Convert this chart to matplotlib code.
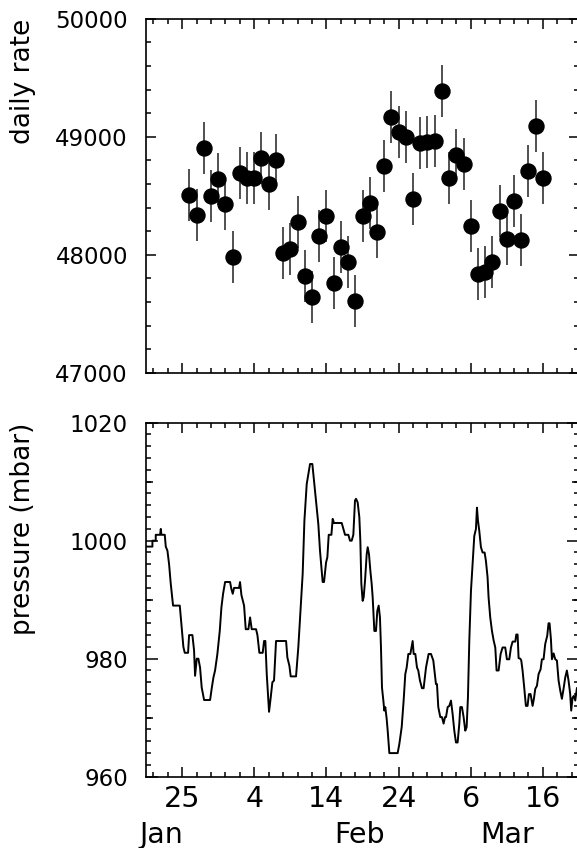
import matplotlib
matplotlib.use('Agg')
import matplotlib.pyplot as plt
import matplotlib.transforms as mtransforms
from matplotlib.ticker import FixedLocator, NullLocator, FixedFormatter
import numpy as np

plt.rcParams['font.family'] = ['DejaVu Sans']

# ---------------- data ----------------
# day-of-year (Jan 26 = 26 ... Mar 16 = 75)
days = list(range(26, 76))
rate = [48508, 48339, 48902, 48500, 48639, 48432, 47983, 48695, 48653, 48647,
        48822, 48599, 48805, 48012, 48051, 48274, 47820, 47644, 48158, 48331,
        47763, 48068, 47938, 47608, 48331, 48441, 48195, 48754, 49169, 49042,
        49000, 48472, 48949, 48958, 48966, 49387, 48653, 48845, 48766, 48243,
        47834, 47856, 47941, 48373, 48130, 48455, 48125, 48712, 49093, 48653]
rate_err = [220] * 50

p_day = [20.0, 20.89, 20.89, 21.35, 21.35, 21.95, 22.05, 22.14, 22.60, 22.74,
         22.97, 23.20, 23.43, 23.75, 24.68, 24.82, 25.18, 25.37, 25.83, 25.97,
         26.43, 26.66, 26.80, 27.03, 27.26, 27.49, 27.72, 28.05, 28.88, 29.11,
         29.34, 29.57, 29.89, 30.22, 30.45, 30.68, 30.96, 31.65, 31.83, 32.02,
         32.20, 32.89, 33.03, 33.22, 33.59, 33.82, 34.19,
         34.42, 34.65, 35.25, 35.44, 35.71, 36.17, 36.36, 36.54, 36.73, 37.05,
         37.28, 37.51, 37.74, 38.02, 39.41, 39.59, 39.87, 40.05, 40.79, 41.11,
         41.35, 41.71, 41.95, 42.27, 42.59, 42.73, 43.05, 43.33, 43.65, 43.88,
         44.11, 44.48, 44.67, 44.95, 45.13, 45.32, 45.69, 45.87, 46.05, 47.12,
         47.35, 47.58, 48.04, 48.27, 48.50, 48.73, 48.96,
         49.10, 49.33, 49.56, 49.70, 49.84, 50.02, 50.16, 50.35, 50.58, 50.72,
         50.90, 51.09, 51.27, 51.41, 51.64, 51.87, 52.05, 52.24, 52.42, 52.56,
         52.70, 52.89, 53.02, 53.16, 53.35, 53.49, 53.72, 54.87, 55.10, 55.43,
         55.70, 55.93, 56.12, 56.35, 56.63, 56.95, 57.09, 57.32, 57.55, 57.73,
         57.96, 58.24, 58.47, 58.80, 59.16, 59.49, 59.81, 60.00, 60.18, 60.32,
         60.50, 60.78, 61.01, 61.24, 61.43, 61.57, 61.80, 62.03, 62.26, 62.49,
         62.72, 62.95, 63.18, 63.41, 63.55,
         63.78, 64.01, 64.24, 64.43, 64.61, 64.80, 65.03, 65.26, 65.49, 65.72,
         65.86, 66.00, 66.18, 66.41, 66.64, 66.92, 67.10, 67.33, 67.47, 67.70,
         67.94, 68.17, 68.40, 68.58, 68.86, 69.14, 69.41, 69.78, 70.01, 70.34,
         70.57, 70.80, 71.17, 71.31, 71.49, 71.63, 71.86, 72.00, 72.18, 72.41,
         72.64, 72.87, 73.06, 73.29, 73.57, 73.75, 73.94, 74.17, 74.40, 74.68,
         74.86, 75.09, 75.32, 75.60, 75.78, 75.92, 76.11, 76.25, 76.48, 76.71,
         76.94, 77.17, 77.40, 77.63, 77.86, 78.09, 78.32, 78.55, 78.78, 78.92,
         79.11, 79.29, 79.48, 79.71]
p_mbar = [999, 999, 1000, 1000, 1001, 1001, 1002, 1001, 1001, 999,
          998.3, 996, 992.7, 989, 989, 987, 982, 981, 981, 984,
          984, 981.4, 977.1, 980, 980, 978.5, 975.1, 973, 973, 975,
          976.8, 978, 980.8, 984.7, 988.7, 991, 993, 993, 991.8, 991,
          992, 992, 993, 990.8, 989, 985, 985,
          987, 985, 985, 984, 981, 981, 983, 983, 977.4, 971,
          973.4, 976, 976.3, 983, 983, 980.2, 978.8, 977, 977, 982,
          987, 994.4, 1003.4, 1009.6, 1012, 1013, 1013, 1009.6, 1005.6, 1002.8,
          998.3, 993, 993, 996.3, 997.2, 1001, 1001, 1003.7, 1003, 1003,
          1002, 1001, 1001, 1000, 1000, 1001, 1006.8,
          1007.1, 1006.5, 1004, 1000, 992.7, 989.8, 990.4, 993.2, 997.7, 998.9,
          997.7, 994.9, 992.7, 990.4, 984.7, 984.7, 988.1, 989, 987, 981.9,
          975.1, 972.9, 971.2, 971.8, 969.8, 967.8, 964, 964, 965.5, 968.4,
          972.9, 977.4, 978.5, 980.8, 980.8, 983, 980.8, 980.8, 978.5, 978,
          976.3, 975, 975, 978.5, 980.8, 980.8, 979.7, 977.7, 975.7, 975.7,
          971.8, 970.1, 970.1, 969, 970.1, 970.1, 971.8, 972, 972.9, 970.6,
          967.8, 965.8, 965.8, 968.9, 971.8,
          971.8, 970.1, 967.8, 968.4, 973.4, 983.1, 991.5, 996, 1000.8, 1002,
          1005.6, 1003.4, 1001.7, 998.9, 998, 998, 996.6, 993.8, 990.4, 987,
          984.7, 983.1, 981.9, 978, 978, 980.8, 981.9, 981.9, 979.9, 979.9,
          981.9, 982.9, 982.9, 984.1, 984.1, 980.1, 980, 979.7, 978, 975.1,
          972, 972, 974, 974, 972, 973.2, 974.9, 975.4, 977.4, 978.2,
          979.9, 979.9, 982.5, 983.9, 986, 986, 983.3, 979.9, 980.9, 979.9,
          979.7, 976.3, 974.6, 973.2, 974.9, 976.8, 978, 976.3, 974, 971.2,
          973.4, 973.7, 972.9, 975]

xtick_pos = [25, 35, 45, 55, 65, 75]
xtick_labels = ['25', '4', '14', '24', '6', '16']
months = ['Jan', 'Feb', 'Mar']
month_pos = [22.1, 49.6, 70.1]

# ---------------- figure ----------------
W, H = 577, 848
fig = plt.figure(figsize=(W / 100, H / 100), dpi=100)

left = 146 / W
width = 433 / W
ax1 = fig.add_axes([left, (H - 372.7) / H, width, 354 / H])
ax2 = fig.add_axes([left, (H - 776.7) / H, width, 354 / H])

lw_sp = 1.2
for ax in (ax1, ax2):
    ax.set_xlim(20, 80)
    for s in ax.spines.values():
        s.set_linewidth(lw_sp)
    ax.xaxis.set_major_locator(FixedLocator(xtick_pos))
    ax.xaxis.set_minor_locator(FixedLocator(np.arange(21, 80, 2)))
    ax.tick_params(axis='both', which='both', direction='in', top=True, right=True, width=1.1)
    ax.tick_params(axis='x', which='major', length=7.2)
    ax.tick_params(axis='x', which='minor', length=3.6)

# top panel
ax1.errorbar(days, rate, yerr=rate_err, fmt='o', color='black', ms=10.8,
             elinewidth=1.1, capsize=0, ecolor='#202020')
ax1.set_ylim(47000, 50000)
ax1.yaxis.set_major_locator(FixedLocator([47000, 48000, 49000, 50000]))
ax1.yaxis.set_minor_locator(FixedLocator(np.arange(47000, 50001, 200)))
ax1.tick_params(axis='y', which='major', length=7.2, labelsize=16.5, pad=13)
ax1.tick_params(axis='y', which='minor', length=3.6)
ax1.tick_params(axis='x', labelbottom=False)
ax1.set_ylabel('daily rate', fontsize=19, loc='top')
ax1.yaxis.set_label_coords(-0.255, 1.0)

# bottom panel
ax2.plot(p_day, p_mbar, color='black', lw=1.4)
ax2.set_ylim(960, 1020)
ax2.yaxis.set_major_locator(FixedLocator([960, 980, 1000, 1020]))
ax2.yaxis.set_minor_locator(FixedLocator(np.arange(960, 1021, 2)))
ax2.tick_params(axis='y', which='major', length=8.6, labelsize=16.5, pad=13)
ax2.tick_params(axis='y', which='minor', length=3.6)
ax2.xaxis.set_major_formatter(FixedFormatter(xtick_labels))
ax2.tick_params(axis='x', which='major', labelsize=20.5, pad=6)
ax2.set_ylabel('pressure (mbar)', fontsize=19, loc='top')
ax2.yaxis.set_label_coords(-0.255, 1.0)

# medium ticks every 10 mbar
for loc in ('left', 'right'):
    sec = ax2.secondary_yaxis(loc)
    sec.set_yticks([970, 990, 1010])
    sec.yaxis.set_minor_locator(NullLocator())
    sec.tick_params(direction='in', length=5, width=1.1,
                    labelleft=False, labelright=False)
    for s in sec.spines.values():
        s.set_visible(False)

trans = mtransforms.blended_transform_factory(ax2.transData, fig.transFigure)
for m, xp in zip(months, month_pos):
    ax2.text(xp, (H - 843) / H, m, transform=trans,
             ha='center', va='baseline', fontsize=20.5)

fig.savefig('out.png', dpi=100)
